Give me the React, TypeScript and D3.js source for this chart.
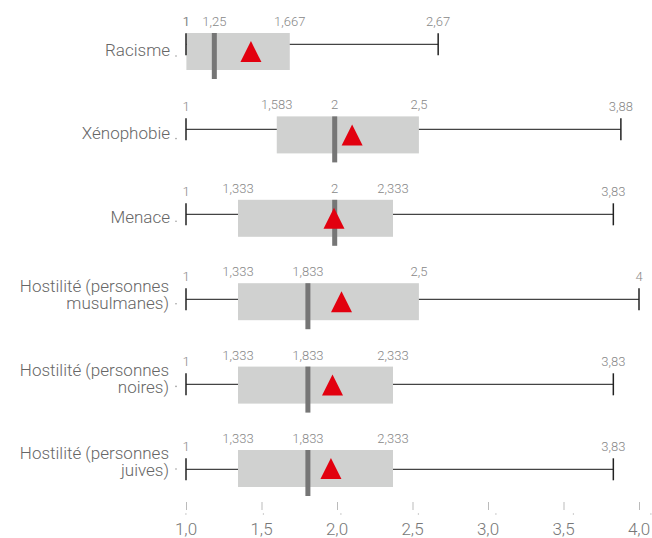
import React from "react";
import * as d3 from "d3";

const categories: string[][] = [
  ["Racisme"],
  ["Xénophobie"],
  ["Menace"],
  ["Hostilité (personnes", "musulmanes)"],
  ["Hostilité (personnes", "noires)"],
  ["Hostilité (personnes", "juives)"],
];
const minValues = [1, 1, 1, 1, 1, 1];
const q1Values = [1, 1.583, 1.333, 1.333, 1.333, 1.333];
const medianValues = [1.25, 2, 2, 1.833, 1.833, 1.833];
const q3Values = [1.667, 2.5, 2.333, 2.5, 2.333, 2.333];
const maxValues = [2.67, 3.88, 3.83, 4, 3.83, 3.83];
const meanValues = [1.43, 2.1, 1.98, 2.03, 1.97, 1.96];
const axisTicks = [1, 1.5, 2, 2.5, 3, 3.5, 4];

const fmt = (v: number) => String(v).replace(".", ",");
const fmtAxis = (v: number) => d3.format(".1f")(v).replace(".", ",");

export default function App() {
  const W = 652;
  const H = 538;
  const idx = categories.map((_, i) => i);
  const xMain = d3.scaleLinear().domain([1, 4]).range([186, 639]);
  const xBox = d3.scaleLinear().domain([1, 4]).range([186.4, 651.4]);
  const xMed = d3.scaleLinear().domain([1, 4]).range([174.2, 655.7]);
  const yBox = d3.scalePoint<number>().domain(idx).range([33, 450]);
  const yWhisk = d3.scalePoint<number>().domain(idx).range([44.3, 469.3]);
  const yDot = d3.scalePoint<number>().domain(idx).range([56, 469]);
  const boxH = 37;
  const medH = 46;
  const font = "Roboto, 'Noto Sans', sans-serif";

  return (
    <svg
      width={W}
      height={H}
      style={{ position: "absolute", left: 0, top: 0, background: "#fff" }}
      fontFamily={font}
    >
      {idx.map((i) => {
        const top = yBox(i)!;
        const wy = yWhisk(i)!;
        const lines = categories[i];
        const mx = xMain(meanValues[i]);
        const tTop = top + 8;
        const tBot = top + 29;
        return (
          <g key={i}>
            {/* category label */}
            <text
              textAnchor="end"
              fontSize={17}
              fontWeight={300}
              fill="#666"
            >
              {lines.length === 1 ? (
                <tspan x={170} y={top + 23}>
                  {lines[0]}
                </tspan>
              ) : (
                lines.map((l, k) => (
                  <tspan key={k} x={169} y={top + 9 + k * 17}>
                    {l}
                  </tspan>
                ))
              )}
            </text>
            <circle cx={176} cy={yDot(i)!} r={0.8} fill="#999" />
            {/* whisker line */}
            <line
              x1={xMain(minValues[i])}
              x2={xMain(maxValues[i])}
              y1={wy}
              y2={wy}
              stroke="#444"
              strokeWidth={1.2}
            />
            {/* box */}
            <rect
              x={xBox(q1Values[i])}
              y={top}
              width={xBox(q3Values[i]) - xBox(q1Values[i])}
              height={boxH}
              fill="#d0d1d0"
            />
            {/* whisker end ticks */}
            {[minValues[i], maxValues[i]].map((v, k) => (
              <line
                key={k}
                x1={xMain(v)}
                x2={xMain(v)}
                y1={wy - 11}
                y2={wy + 11}
                stroke="#222"
                strokeWidth={1.5}
              />
            ))}
            {/* median */}
            <rect
              x={xMed(medianValues[i]) - 2.5}
              y={top}
              width={5}
              height={medH}
              fill="#767676"
            />
            {/* mean triangle */}
            <path
              d={`M${mx},${tTop}L${mx + 10.5},${tBot}L${mx - 10.5},${tBot}Z`}
              fill="#e2000f"
            />
            {/* value labels */}
            <g fontSize={13} fontWeight={300} fill="#888" textAnchor="middle">
              <text x={xMain(minValues[i])} y={wy - 18}>
                {fmt(minValues[i])}
              </text>
              <text x={xMain(maxValues[i])} y={wy - 18}>
                {fmt(maxValues[i])}
              </text>
              <text x={xBox(q1Values[i])} y={top - 7}>
                {fmt(q1Values[i])}
              </text>
              <text x={xBox(q3Values[i])} y={top - 7}>
                {fmt(q3Values[i])}
              </text>
              <text x={xMed(medianValues[i])} y={top - 7}>
                {fmt(medianValues[i])}
              </text>
            </g>
          </g>
        );
      })}
      {/* x axis */}
      {axisTicks.map((t) => (
        <g key={t}>
          <line
            x1={xMain(t) + 0.5}
            x2={xMain(t) + 0.5}
            y1={502}
            y2={510}
            stroke="#bbb"
            strokeWidth={1}
          />
          <circle cx={xBox(t) - 0.5} cy={514} r={0.7} fill="#bbb" />
          <text
            x={xMain(t)}
            y={535}
            textAnchor="middle"
            fontSize={17}
            fontWeight={300}
            fill="#777"
          >
            {fmtAxis(t)}
          </text>
        </g>
      ))}
    </svg>
  );
}
